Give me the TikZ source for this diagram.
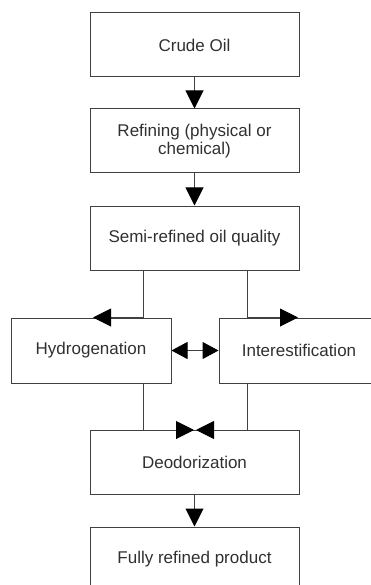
\documentclass[tikz,border=0pt]{standalone}
\usepackage{fontspec}
\setmainfont{Liberation Sans}
\usetikzlibrary{arrows.meta}
\definecolor{linec}{HTML}{404040}
\definecolor{textc}{HTML}{303030}
\begin{document}
\begin{tikzpicture}[x=1pt,y=-1pt,
  box/.style={draw=linec, line width=1pt, minimum width=209pt, minimum height=64pt,
    inner sep=0pt, align=center, font=\fontsize{17}{18}\selectfont, text=textc},
  sidebox/.style={box, minimum width=160pt, minimum height=65pt},
  conn/.style={draw=linec, line width=1pt, -{Triangle[length=18pt,width=18pt,black]}},
  dconn/.style={draw=linec, line width=1pt, {Triangle[length=16pt,width=17pt,black]}-{Triangle[length=16pt,width=17pt,black]}}
]
\useasboundingbox (0,0) rectangle (371,585);
\node[box] (crude) at (194.5,45) {Crude Oil};
\node[box] (refin) at (194.5,141) {Refining (physical or\\chemical)};
\node[box] (semi) at (194.5,238) {Semi-refined oil quality};
\node[sidebox] (hydro) at (91,350.5) {Hydrogenation};
\node[sidebox] (inter) at (299,350.5) {Interestification};
\node[box] (deod) at (194.5,462.5) {Deodorization};
\node[box] (fully) at (194.5,559) {Fully refined product};

\draw[conn] (crude) -- (refin);
\draw[conn] (refin) -- (semi);
\draw[conn] ([xshift=-51.5pt]semi.south) |- ([xshift=2pt]hydro.north);
\draw[conn] ([xshift=52.5pt]semi.south) |- ([xshift=-1pt]inter.north);
\draw[dconn] (hydro) -- (inter);
\draw[conn] ([xshift=52pt]hydro.south) |- ([xshift=-0.5pt]deod.north);
\draw[conn] ([xshift=-52pt]inter.south) |- ([xshift=1.5pt]deod.north);
\draw[conn] (deod) -- (fully);
\end{tikzpicture}
\end{document}
